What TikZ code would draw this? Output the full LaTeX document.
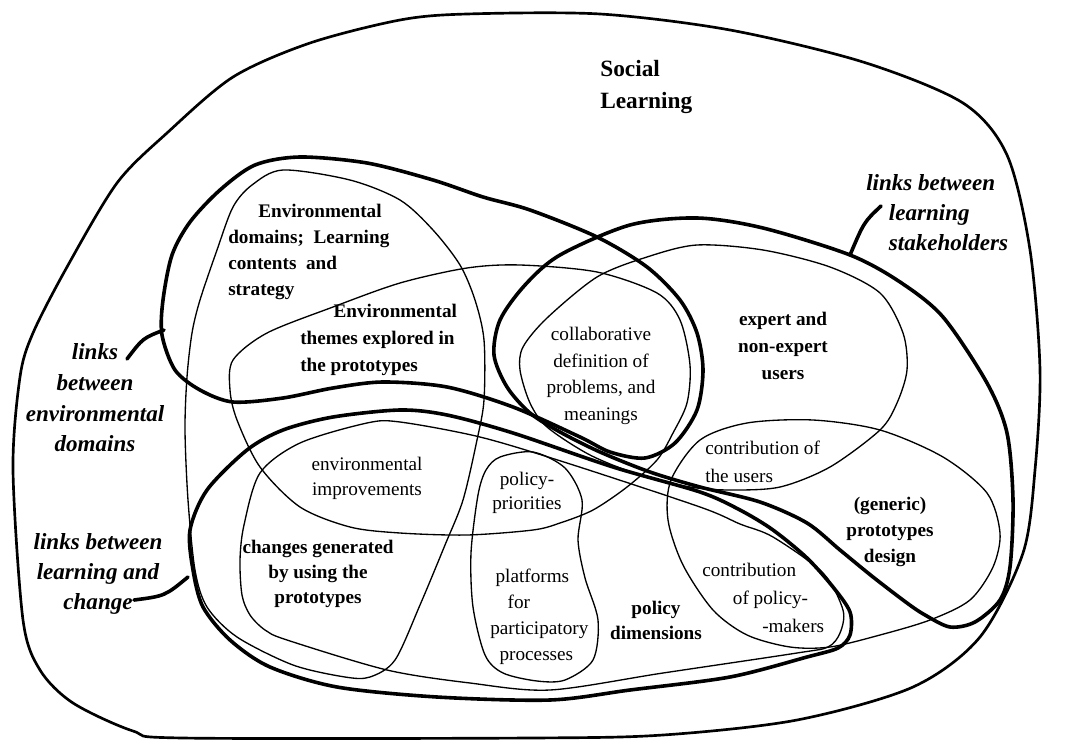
\documentclass[tikz,border=0pt]{standalone}
\usepackage{fontspec}
\setmainfont{Liberation Serif}
\begin{document}
\begin{tikzpicture}[x=0.75pt,y=-0.75pt,
  thinb/.style={line width=1pt},
  thickb/.style={line width=2.7pt},
  outerb/.style={line width=2pt},
  conn/.style={line width=2.7pt, line cap=round},
  txt/.style={inner sep=0pt, font=\fontsize{14.4}{#1}\selectfont}, txt/.default=20,
  btxt/.style={inner sep=0pt, font=\fontsize{14.4}{#1}\selectfont\bfseries}, btxt/.default=20,
  ilbl/.style={inner sep=0pt, font=\fontsize{17.3}{#1}\selectfont\bfseries\itshape}, ilbl/.default=22.5,
  big/.style={inner sep=0pt, font=\fontsize{17.5}{24}\selectfont\bfseries}
]
\useasboundingbox (0,0) rectangle (1066,742);

% outer: Social Learning
\draw[outerb] plot[smooth cycle] coordinates {
 (467,14) (600,14) (730,30) (863,62) (963,103) (1007,155) (1030,250) (1040,370)
 (1035,470) (1023,553) (980,637) (913,687) (797,720) (663,735) (530,738) (183,738)
 (133,731) (73,703) (40,670) (23,620) (13,470) (20,377) (33,333) (67,267) (117,183)
 (167,133) (233,77) (310,43) (400,20)};

% thick E: links between environmental domains
\draw[thickb] plot[smooth cycle] coordinates {
 (300,157) (367,163) (433,180) (483,197) (530,210) (597,237) (647,267) (680,300)
 (697,333) (703,370) (697,410) (675,443) (645,458) (610,452) (580,437) (513,407)
 (447,387) (383,382) (333,388) (283,398) (233,402) (200,390) (175,370) (162,335)
 (163,300) (172,255) (190,222) (220,190) (255,165)};

% thick S: links between learning stakeholders
\draw[thickb] plot[smooth cycle] coordinates {
 (560,255) (630,225) (697,218) (763,228) (850,255) (900,282) (943,317) (987,383)
 (1007,433) (1013,500) (1010,567) (1000,600) (975,622) (950,627) (925,615) (907,603)
 (873,577) (840,550) (807,523) (760,502) (700,487) (650,472) (600,452) (560,432)
 (530,413) (507,387) (494,355) (500,320) (525,285)};

% thick C: links between learning and change
\draw[thickb] plot[smooth cycle] coordinates {
 (190,530) (207,490) (247,450) (283,430) (333,417) (400,410) (447,415) (513,433)
 (613,467) (700,492) (740,510) (773,530) (807,558) (833,587) (850,612) (850,635)
 (838,648) (807,657) (730,677) (630,690) (550,700) (437,697) (337,687) (270,667)
 (230,640) (203,607) (193,570)};

% thin D: environmental domains; learning contents and strategy
\draw[thinb] plot[smooth cycle] coordinates {
 (283,170) (350,180) (400,200) (433,230) (460,265) (475,300) (484,340) (484,400)
 (477,440) (463,500) (445,545) (420,605) (395,660) (370,677) (345,677) (293,665)
 (237,637) (207,607) (195,570) (188,500) (185,430) (187,377) (192,333) (200,300)
 (217,250) (233,207) (252,185)};

% thin T: environmental themes explored in the prototypes
\draw[thinb] plot[smooth cycle] coordinates {
 (233,360) (267,333) (333,307) (400,283) (467,268) (520,265) (597,272) (657,293)
 (680,320) (690,365) (687,403) (673,433) (657,460) (627,487) (593,510) (560,523)
 (533,530) (467,535) (400,533) (350,527) (300,507) (260,467) (237,420) (230,390)};

% thin X: expert and non-expert users
\draw[thinb] plot[smooth cycle] coordinates {
 (597,277) (647,257) (697,245) (763,250) (830,267) (880,293) (903,333) (907,370)
 (897,403) (880,430) (830,467) (780,487) (730,490) (690,487) (640,475) (590,455)
 (547,427) (530,403) (520,370) (523,347) (547,318)};

% thin G: changes generated (inside C)
\draw[thinb] plot[smooth cycle] coordinates {
 (260,473) (300,443) (367,423) (400,422) (480,437) (567,463) (700,507) (740,524)
 (773,537) (823,573) (843,610) (840,633) (828,647) (797,653) (663,673) (550,690)
 (470,683) (387,670) (287,640) (265,630) (250,615) (242,595) (240,560) (244,525)};

% thin PP: policy-priorities / platforms
\draw[thinb] plot[smooth cycle] coordinates {
 (500,457) (533,452) (565,468) (582,500) (578,540) (585,578) (598,620) (593,660)
 (565,680) (537,681) (503,673) (485,655) (473,607) (471,553) (478,495) (486,470)};

% thin R: (generic) prototypes design
\draw[thinb] plot[smooth cycle] coordinates {
 (700,440) (747,423) (813,420) (880,430) (943,457) (987,493) (1000,533) (993,567)
 (970,600) (930,620) (880,635) (830,647) (790,647) (747,635) (713,610) (683,565)
 (668,520) (671,480)};

% texts
\node[big, anchor=west, align=left] (tSocial) at (600,87) {Social\\Learning};
\node[ilbl, anchor=west, align=left] (tLS) at (866,213) {links between\\\hspace*{17pt}learning\\\hspace*{17pt}stakeholders};
\node[ilbl=23, align=center] (tLE) at (95,398) {links\\between\\environmental\\domains};
\node[ilbl, align=center] (tLC) at (98,574) {links between\\learning and\\change};
\node[btxt=19.7, anchor=west, align=left] (tDom) at (228,252) {\hspace*{22.5pt}Environmental\\domains;\ \ Learning\\contents\ \ and\\strategy};
\node[btxt, anchor=west, align=left] (tThemes) at (300,340) {\hspace*{25pt}Environmental\\themes explored in\\the prototypes};
\node[txt, align=center] (tCollab) at (601,376) {collaborative\\definition of\\problems, and\\meanings};
\node[btxt=20.5, align=center] (tExpert) at (783,346) {expert and\\non-expert\\users};
\node[txt=21, anchor=west, align=left] (tCU) at (705,462) {contribution of\\the users};
\node[btxt=19.5, align=center] (tGen) at (890,532) {(generic)\\prototypes\\design};
\node[txt=21, anchor=west, align=left] (tCPM) at (702,598) {contribution\\\hspace*{23pt}of policy-\\\hspace*{45pt}-makers};
\node[btxt=18.75, align=center] (tPolDim) at (656,620) {policy\\dimensions};
\node[txt=19.5, anchor=west, align=left] (tPlat) at (490,617) {\hspace*{4pt}platforms\\\hspace*{13pt}for\\participatory\\\hspace*{7pt}processes};
\node[txt=17.5, align=center] (tPri) at (527,493) {policy-\\priorities};
\node[txt=18.75, align=center] (tImp) at (367,478) {environmental\\improvements};
\node[btxt=18.75, align=center] (tChg) at (318,574) {changes generated\\by using the\\prototypes};

% connectors from labels to thick outlines
\coordinate (lSs) at (881,206);
\coordinate (eS) at (850,255);
\draw[conn] (lSs) .. controls (864,222) .. (eS);
\coordinate (lEs) at (127,359);
\coordinate (eE) at (164,330);
\draw[conn] (lEs) .. controls (143,338) .. (eE);
\coordinate (lCs) at (134,600);
\coordinate (eC) at (188,577);
\draw[conn] (lCs) .. controls (165,596) .. (eC);
\end{tikzpicture}
\end{document}
